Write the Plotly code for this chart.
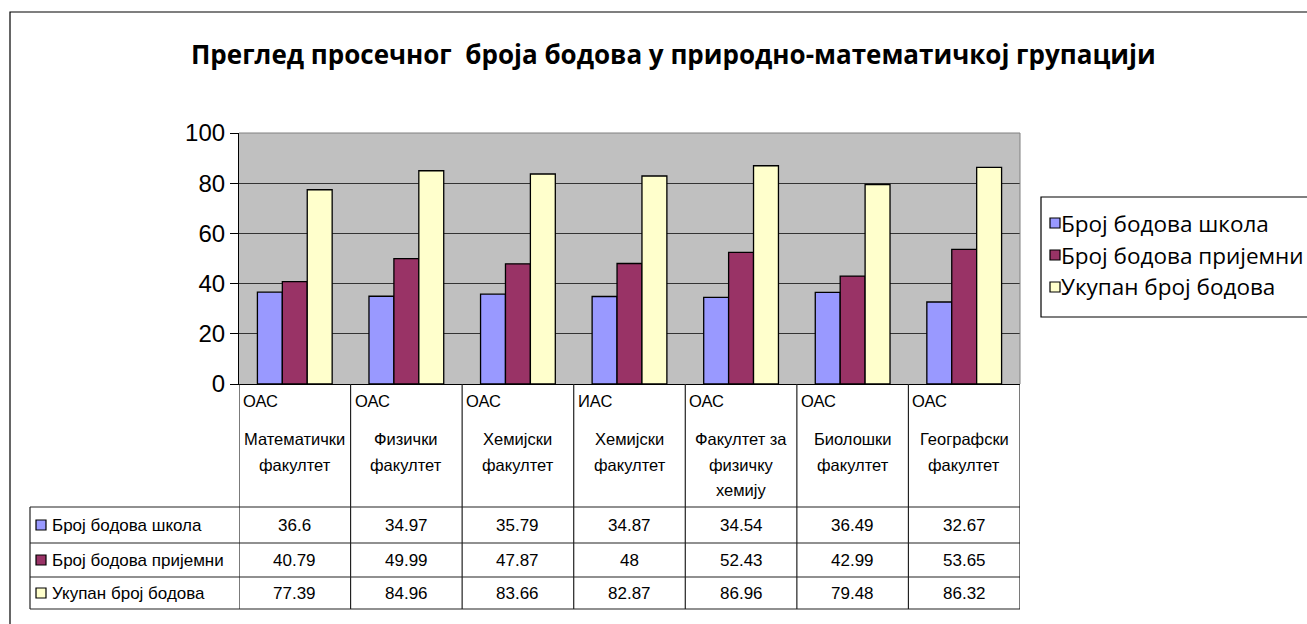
import plotly.graph_objects as go

# Average points per faculty (natural sciences & mathematics group)
programs = ["ОАС", "ОАС", "ОАС", "ИАС", "ОАС", "ОАС", "ОАС"]
faculties = [
    ["Математички", "факултет"],
    ["Физички", "факултет"],
    ["Хемијски", "факултет"],
    ["Хемијски", "факултет"],
    ["Факултет за", "физичку", "хемију"],
    ["Биолошки", "факултет"],
    ["Географски", "факултет"],
]
series_names = ["Број бодова школа", "Број бодова пријемни", "Укупан број бодова"]
school_points = [36.6, 34.97, 35.79, 34.87, 34.54, 36.49, 32.67]
exam_points = [40.79, 49.99, 47.87, 48, 52.43, 42.99, 53.65]
total_points = [77.39, 84.96, 83.66, 82.87, 86.96, 79.48, 86.32]
y_ticks = [0, 20, 40, 60, 80, 100]

title_text = "Преглед просечног  броја бодова у природно-математичкој групацији"

colors = ["#9999FF", "#993366", "#FFFFCC"]
series_values = [school_points, exam_points, total_points]

W, H = 1307, 624


def fx(px):
    return px / W


def fy(py):
    return 1 - py / H


PLOT_L, PLOT_R, PLOT_T, PLOT_B = 239, 1020, 133, 384
TABLE_L = 30
ROW_LINES = [507, 543, 577, 609]
ROW_CENTERS = [525, 560, 593]

n = len(programs)
xs = list(range(n))

fig = go.Figure()
for name, vals, col in zip(series_names, series_values, colors):
    fig.add_trace(go.Bar(
        x=xs, y=vals, name=name, showlegend=False,
        marker=dict(color=col, line=dict(color="#000000", width=1.3)),
        hoverinfo="y",
    ))

shapes = []
annotations = []
line_col = "#222222"

# outer chart frame
shapes.append(dict(type="rect", xref="paper", yref="paper",
                   x0=fx(10), x1=fx(1330), y0=fy(12), y1=fy(650),
                   line=dict(color="#000000", width=1.2), fillcolor="rgba(0,0,0,0)"))

# plot area top/right border
shapes.append(dict(type="line", xref="paper", yref="paper",
                   x0=fx(PLOT_L), x1=fx(PLOT_R), y0=fy(PLOT_T), y1=fy(PLOT_T),
                   line=dict(color="#808080", width=1)))
shapes.append(dict(type="line", xref="paper", yref="paper",
                   x0=fx(PLOT_R), x1=fx(PLOT_R), y0=fy(PLOT_T), y1=fy(PLOT_B),
                   line=dict(color="#808080", width=1)))

# data table: vertical lines at category boundaries
for i in range(n + 1):
    shapes.append(dict(type="line", xref="x", yref="paper",
                       x0=i - 0.5, x1=i - 0.5, y0=fy(PLOT_B), y1=fy(ROW_LINES[-1]),
                       line=dict(color=line_col, width=1.2)))
# left border of the row-label column
shapes.append(dict(type="line", xref="paper", yref="paper",
                   x0=fx(TABLE_L), x1=fx(TABLE_L), y0=fy(ROW_LINES[0]), y1=fy(ROW_LINES[-1]),
                   line=dict(color=line_col, width=1.2)))
# horizontal row lines
for yl in ROW_LINES:
    shapes.append(dict(type="line", xref="paper", yref="paper",
                       x0=fx(TABLE_L), x1=fx(PLOT_R), y0=fy(yl), y1=fy(yl),
                       line=dict(color=line_col, width=1.2)))

TBL_FAMILY = "Liberation Sans, Arial"
tbl_font = dict(family=TBL_FAMILY, size=16.5, color="#000000")

# header cells
for i, (prog, fac) in enumerate(zip(programs, faculties)):
    annotations.append(dict(xref="x", yref="paper", x=i - 0.5, y=fy(401),
                            text=prog, showarrow=False, xanchor="left", yanchor="middle",
                            xshift=2, font=tbl_font))
    for k, line in enumerate(fac):
        annotations.append(dict(xref="x", yref="paper", x=i, y=fy(439 + 25.5 * k),
                                text=line, showarrow=False, xanchor="center", yanchor="middle",
                                font=tbl_font))

# value rows
for r, (name, vals, col) in enumerate(zip(series_names, series_values, colors)):
    yc = ROW_CENTERS[r]
    shapes.append(dict(type="rect", xref="paper", yref="paper",
                       x0=fx(36), x1=fx(46), y0=fy(yc - 5), y1=fy(yc + 5),
                       fillcolor=col, line=dict(color="#000000", width=1.2)))
    annotations.append(dict(xref="paper", yref="paper", x=fx(50), y=fy(yc),
                            text=name, showarrow=False, xanchor="left", yanchor="middle",
                            font=dict(family=TBL_FAMILY, size=17, color="#000000")))
    for i, v in enumerate(vals):
        annotations.append(dict(xref="x", yref="paper", x=i, y=fy(yc),
                                text=f"{v:g}", showarrow=False, xanchor="center", yanchor="middle",
                                font=dict(family=TBL_FAMILY, size=17, color="#000000")))

# legend box
shapes.append(dict(type="rect", xref="paper", yref="paper",
                   x0=fx(1041), x1=fx(1340), y0=fy(197), y1=fy(317),
                   line=dict(color="#000000", width=1.2), fillcolor="#FFFFFF"))
leg_centers = [223, 255, 287]
for name, col, yc in zip(series_names, colors, leg_centers):
    shapes.append(dict(type="rect", xref="paper", yref="paper",
                       x0=fx(1050), x1=fx(1060), y0=fy(yc - 5), y1=fy(yc + 5),
                       fillcolor=col, line=dict(color="#000000", width=1.2)))
    annotations.append(dict(xref="paper", yref="paper", x=fx(1059), y=fy(yc),
                            text=name, showarrow=False, xanchor="left", yanchor="middle",
                            font=dict(family="Open Sans", size=22.5, color="#000000")))

# title
annotations.append(dict(xref="paper", yref="paper", x=fx(674), y=fy(54),
                        text=f"<b>{title_text}</b>", showarrow=False,
                        xanchor="center", yanchor="middle",
                        font=dict(family="Open Sans", size=26, color="#000000")))

fig.update_layout(
    width=W, height=H,
    autosize=False,
    margin=dict(l=0, r=0, t=0, b=0, pad=0, autoexpand=False),
    paper_bgcolor="#FFFFFF",
    plot_bgcolor="#C0C0C0",
    barmode="group", bargap=0.33, bargroupgap=0,
    shapes=shapes, annotations=annotations,
    xaxis=dict(domain=[fx(PLOT_L), fx(PLOT_R)], range=[-0.5, n - 0.5],
               showticklabels=False, showgrid=False, zeroline=False, automargin=False,
               showline=True, linecolor="#000000", linewidth=1.2, ticks=""),
    yaxis=dict(domain=[fy(PLOT_B), fy(PLOT_T)], range=[0, 100], automargin=False,
               tickvals=y_ticks, ticks="outside", ticklen=8, tickcolor="#000000",
               showline=True, linecolor="#000000", linewidth=1.2,
               showgrid=True, gridcolor="#333333", gridwidth=1, zeroline=False,
               tickfont=dict(family="Liberation Sans, Arial", size=24, color="#000000")),
    showlegend=False,
)

fig.write_html("out.html")
